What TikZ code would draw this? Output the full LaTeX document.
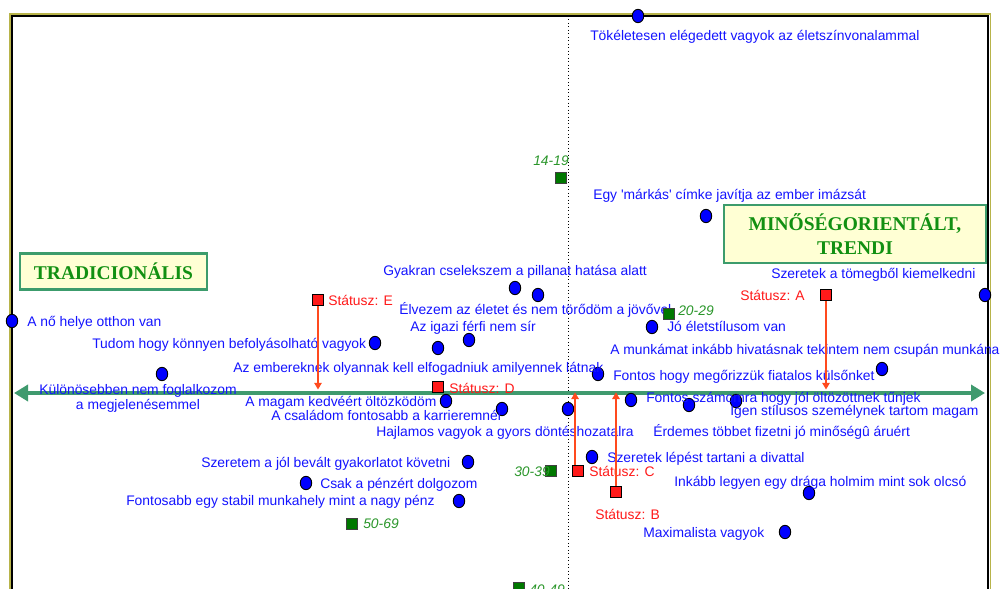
\documentclass[tikz,border=0pt]{standalone}
\usepackage{fontspec}
\setmainfont{Liberation Sans}
\newfontfamily\titlefont{Liberation Serif}
\usetikzlibrary{shapes.geometric,arrows.meta}
\definecolor{frameolive}{HTML}{B8B44A}
\definecolor{axisgreen}{HTML}{3F9A6E}
\definecolor{boxgreen}{HTML}{3C9C6C}
\definecolor{titlegreen}{HTML}{129012}
\definecolor{boxfill}{HTML}{FFFFD4}
\definecolor{agegreen}{HTML}{2A962A}
\definecolor{agesq}{HTML}{007800}
\definecolor{statred}{HTML}{FF1A1A}
\definecolor{arrred}{HTML}{FF4A1E}
\definecolor{txtblue}{HTML}{1414FF}
\begin{document}
\begin{tikzpicture}[x=0.75pt,y=-0.75pt,
  every node/.style={font=\fontsize{10.4}{12}\selectfont},
  stmt/.style={text=txtblue, inner sep=0pt, text height=7.5pt, text depth=2pt, yshift=-1.2pt},
  dot/.style={ellipse, draw=black, line width=0.7pt, fill=blue, minimum width=8.6pt, minimum height=10pt, inner sep=0pt},
  agebox/.style={rectangle, draw=black!75, line width=0.7pt, fill=agesq, minimum size=8pt, inner sep=0pt},
  agelabel/.style={text=agegreen, inner sep=0pt, text height=7.5pt, text depth=2pt, yshift=-1.2pt, font=\fontsize{10.4}{12}\selectfont\itshape},
  statbox/.style={rectangle, draw=black, line width=0.7pt, fill=statred, minimum width=8pt, minimum height=8.5pt, inner sep=0pt},
  statlabel/.style={text=statred, inner sep=0pt, text height=7.5pt, text depth=2pt, yshift=-1.2pt},
  statarrow/.style={draw=arrred, line width=1.2pt, -{Triangle[length=5pt,width=5.5pt]}},
  axisline/.style={draw=axisgreen, line width=3.6pt, {Triangle[length=10.5pt,width=12pt]}-{Triangle[length=10.5pt,width=12pt]}},
  titlebox/.style={rectangle, draw=boxgreen, line width=1.9pt, fill=boxfill, align=center, text=titlegreen, inner sep=0pt, font=\titlefont\bfseries\fontsize{14.6}{18}\selectfont}
]
\useasboundingbox (0,0) rectangle (1000,589);
\fill[white] (0,0) rectangle (1000,589);
% frame
\draw[frameolive, line width=1.2pt] (10,620) -- (10,14) -- (990.5,14) -- (990.5,620);
\draw[black, line width=1.3pt] (11.8,620) -- (11.8,15.8) -- (988.3,15.8) -- (988.3,620);
% vertical dotted line
\draw[black, line width=0.6pt, dotted] (568,16) -- (568,589);
% axis
\coordinate (axL) at (14,393);
\coordinate (axR) at (985,393);
\draw[axisline] (axL) -- (axR);
% title boxes
\node[titlebox, minimum width=140pt, minimum height=27pt] (trad) at (113.5,271.5) {TRADICIONÁLIS};
\node[titlebox, minimum width=196.5pt, minimum height=43.5pt] (minos) at (855,234) {MINŐSÉGORIENTÁLT,\\TRENDI};
% dots
\node[dot] (d1) at (638,16) {};
\node[dot] (d2) at (706,216) {};
\node[dot] (d3) at (985,295) {};
\node[dot] (d4) at (12,321) {};
\node[dot] (d5) at (515,288) {};
\node[dot] (d6) at (538,295) {};
\node[dot] (d7) at (375,343) {};
\node[dot] (d8) at (438,348) {};
\node[dot] (d9) at (469,340) {};
\node[dot] (d10) at (652,327) {};
\node[dot] (d11) at (598,374) {};
\node[dot] (d12) at (446,401) {};
\node[dot] (d13) at (502,409) {};
\node[dot] (d14) at (568,409) {};
\node[dot] (d15) at (631,400) {};
\node[dot] (d16) at (689,405) {};
\node[dot] (d17) at (736,401) {};
\node[dot] (d18) at (882,369) {};
\node[dot] (d19) at (162,374) {};
\node[dot] (d20) at (468,462) {};
\node[dot] (d21) at (306,483) {};
\node[dot] (d22) at (459,501) {};
\node[dot] (d23) at (592,457) {};
\node[dot] (d24) at (809,493) {};
\node[dot] (d25) at (785,532) {};
% statements
\node[stmt, anchor=west] (t1) at (590,35) {Tökéletesen elégedett vagyok az életszínvonalammal};
\node[stmt, anchor=west] (t2) at (593,194) {Egy \textquotesingle márkás\textquotesingle\ címke javítja az ember imázsát};
\node[stmt, anchor=west] (t3) at (771,273) {Szeretek a tömegből kiemelkedni};
\node[stmt, anchor=west] (t4) at (27,321) {A nő helye otthon van};
\node[stmt, anchor=west] (t5) at (383,270) {Gyakran cselekszem a pillanat hatása alatt};
\node[stmt, anchor=west] (t6) at (399,309) {Élvezem az életet és nem törődöm a jövővel};
\node[stmt, anchor=west] (t7) at (410,326) {Az igazi férfi nem sír};
\node[stmt, anchor=west] (t8) at (92,343) {Tudom hogy könnyen befolyásolható vagyok};
\node[stmt, anchor=west] (t9) at (233,367) {Az embereknek olyannak kell elfogadniuk amilyennek látnak};
\node[stmt, anchor=west] (t10) at (667,326) {Jó életstílusom van};
\node[stmt, anchor=west] (t11) at (610,349) {A munkámat inkább hivatásnak tekintem nem csupán munkának};
\node[stmt, anchor=west] (t12) at (613,375) {Fontos hogy megőrizzük fiatalos külsőnket};
\node[stmt, align=center, text height=, text depth=] (t13) at (138,397) {Különösebben nem foglalkozom\\[-1pt]a megjelenésemmel};
\node[stmt, anchor=west] (t14) at (245,401) {A magam kedvéért öltözködöm};
\node[stmt, anchor=west] (t15) at (271,415) {A családom fontosabb a karrieremnél};
\node[stmt, anchor=west] (t16) at (376,431) {Hajlamos vagyok a gyors döntéshozatalra};
\node[stmt, anchor=west] (t17) at (646,397) {Fontos számomra hogy jól öltözöttnek tűnjek};
\node[stmt, anchor=west] (t18) at (730,410) {Igen stílusos személynek tartom magam};
\node[stmt, anchor=west] (t19) at (653,431) {Érdemes többet fizetni jó minőségû áruért};
\node[stmt, anchor=west] (t20) at (201,462) {Szeretem a jól bevált gyakorlatot követni};
\node[stmt, anchor=west] (t21) at (320,483) {Csak a pénzért dolgozom};
\node[stmt, anchor=west] (t22) at (126,500) {Fontosabb egy stabil munkahely mint a nagy pénz};
\node[stmt, anchor=west] (t23) at (607,457) {Szeretek lépést tartani a divattal};
\node[stmt, anchor=west] (t24) at (674,481) {Inkább legyen egy drága holmim mint sok olcsó};
\node[stmt, anchor=west] (t25) at (643,532) {Maximalista vagyok};
% age groups
\node[agebox] (g1) at (561,178) {};
\node[agelabel, anchor=east] (gl1) at (569,160) {14-19};
\node[agebox] (g2) at (669,314) {};
\node[agelabel, anchor=west] (gl2) at (678,310) {20-29};
\node[agebox] (g3) at (551,471) {};
\node[agelabel, anchor=east] (gl3) at (550,471) {30-39};
\node[agebox] (g4) at (352,524) {};
\node[agelabel, anchor=west] (gl4) at (363,523) {50-69};
\node[agebox] (g5) at (519,588) {};
\node[agelabel, anchor=west] (gl5) at (529,589) {40-49};
% status
\node[statbox] (sE) at (318,300) {};
\node[statlabel, anchor=west] (lE) at (328,300) {Státusz: E};
\node[statbox] (sD) at (438,387) {};
\node[statlabel, anchor=west] (lD) at (449,388) {Státusz: D};
\node[statbox] (sA) at (826,295) {};
\node[statlabel, anchor=east] (lA) at (805,295) {Státusz: A};
\node[statbox] (sC) at (578,471) {};
\node[statlabel, anchor=west] (lC) at (589,471) {Státusz: C};
\node[statbox] (sB) at (616,492) {};
\node[statlabel, anchor=west] (lB) at (595,514) {Státusz: B};
% status arrows
\draw[statarrow, shorten >=2.6pt] (sE.south) -- (sE.south |- axL);
\draw[statarrow, shorten >=2.6pt] (sA.south) -- (sA.south |- axL);
\draw[statarrow, shorten >=-0.5pt] ([xshift=-2.2pt]sC.north) -- ([xshift=-2.2pt]sC.north |- axL);
\draw[statarrow, shorten >=-0.5pt] (sB.north) -- (sB.north |- axL);
\end{tikzpicture}
\end{document}
